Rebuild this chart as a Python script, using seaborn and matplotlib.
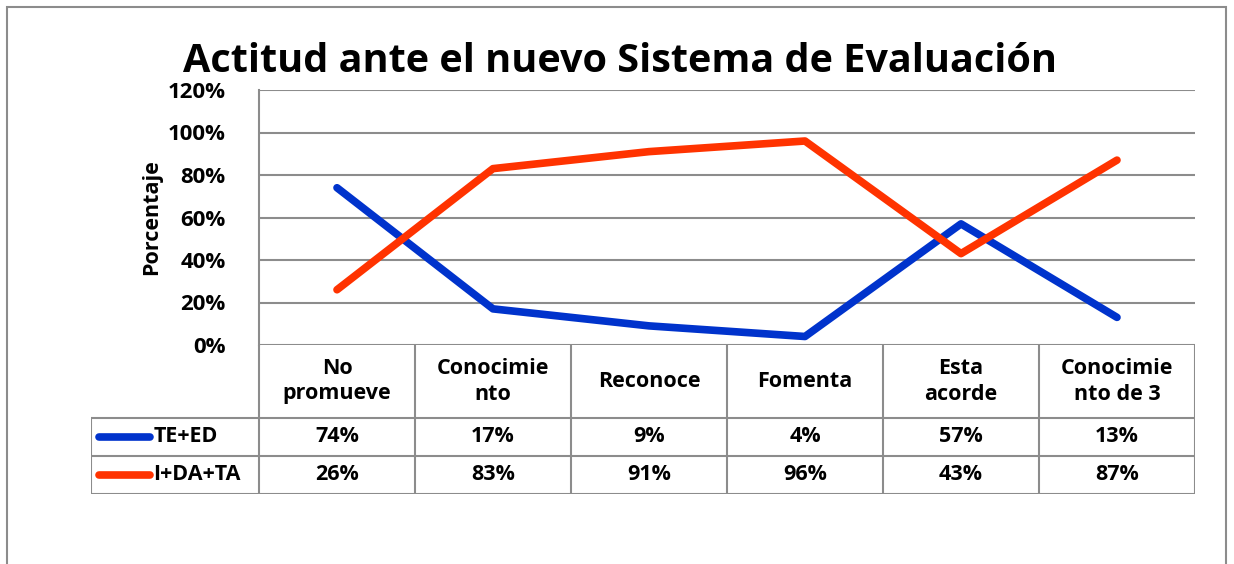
import matplotlib
matplotlib.use("Agg")
import matplotlib.pyplot as plt
from matplotlib.patches import Rectangle
import pandas as pd
import seaborn as sns

categories = ["No\npromueve", "Conocimie\nnto", "Reconoce", "Fomenta", "Esta\nacorde", "Conocimie\nnto de 3"]
series_names = ["TE+ED", "I+DA+TA"]
te_ed = [74, 17, 9, 4, 57, 13]
i_da_ta = [26, 83, 91, 96, 43, 87]
yticks = [0, 20, 40, 60, 80, 100, 120]

colors = {"TE+ED": "#0033CC", "I+DA+TA": "#FF3300"}
GRID = "#8c8c8c"
FONT = "Open Sans"

W, H = 1234, 564

def px_box(x0, y0, x1, y1):
    # pixel box (top-left origin) -> figure fraction rect
    return [x0 / W, 1 - y1 / H, (x1 - x0) / W, (y1 - y0) / H]

df = pd.DataFrame({
    "pos": [i + 0.5 for i in range(len(categories))] * 2,
    "value": te_ed + i_da_ta,
    "serie": [series_names[0]] * len(te_ed) + [series_names[1]] * len(i_da_ta),
})

sns.set_style("white")
plt.rcParams["font.family"] = [FONT, "DejaVu Sans"]
plt.rcParams["text.color"] = "black"
plt.rcParams["axes.labelcolor"] = "black"
plt.rcParams["ytick.color"] = "black"

fig = plt.figure(figsize=(W / 100, H / 100), dpi=100)

# outer chart frame
fig.add_artist(Rectangle((7 / W, -0.05), (1226 - 7) / W, 1 - 7 / H + 0.05,
                         transform=fig.transFigure, fill=False, edgecolor=GRID, lw=1.5))

ax = fig.add_axes(px_box(259, 90, 1195, 345))
for v in yticks:
    ax.axhline(v, color=GRID, lw=1.5, zorder=0)
sns.lineplot(data=df, x="pos", y="value", hue="serie", palette=colors,
             linewidth=5.5, legend=False, ax=ax, solid_capstyle="round")
ax.set_xlim(0, len(categories))
ax.set_ylim(0, 120)
ax.set_yticks(yticks)
ax.set_yticklabels([f"{v}%" for v in yticks], fontsize=16, fontweight="bold")
ax.tick_params(axis="y", length=0, pad=24)
ax.set_xticks([])
ax.set_xlabel("")
ax.set_ylabel("Porcentaje", fontsize=15.5, fontweight="bold", labelpad=4)
for side in ["top", "right", "bottom"]:
    ax.spines[side].set_visible(False)
ax.spines["left"].set_color(GRID)
ax.spines["left"].set_linewidth(1.5)

ax.set_title("Actitud ante el nuevo Sistema de Evaluación", fontsize=28.5,
             fontweight="bold", pad=13, x=(620 - 259) / 936)

# data table below the plot
tab = fig.add_axes(px_box(91, 345, 1195, 494))
lead = 168 / 156
tab.set_xlim(-lead, len(categories))
tab.set_ylim(149, 0)
tab.axis("off")
rows = [0, 73, 111, 149]
for i in range(len(categories) + 1):
    tab.plot([i, i], [0, 149], color=GRID, lw=1.5)
tab.plot([-lead, -lead], [73, 149], color=GRID, lw=1.5)
for r in rows[1:]:
    tab.plot([-lead, len(categories)], [r, r], color=GRID, lw=1.5)

for i, cat in enumerate(categories):
    tab.text(i + 0.5, 36.5, cat, ha="center", va="center", fontsize=15.5,
             fontweight="bold", linespacing=1.25)

for k, (name, vals) in enumerate(zip(series_names, [te_ed, i_da_ta])):
    yc = (rows[k + 1] + rows[k + 2]) / 2
    tab.plot([-lead + 0.05, -lead + 0.38], [yc, yc], color=colors[name], lw=5.5,
             solid_capstyle="round")
    tab.text(-lead + 0.40, yc, name, ha="left", va="center", fontsize=15.5, fontweight="bold")
    for i, v in enumerate(vals):
        tab.text(i + 0.5, yc, f"{v}%", ha="center", va="center", fontsize=15.5,
                 fontweight="bold")

fig.savefig("out.png", dpi=100)
